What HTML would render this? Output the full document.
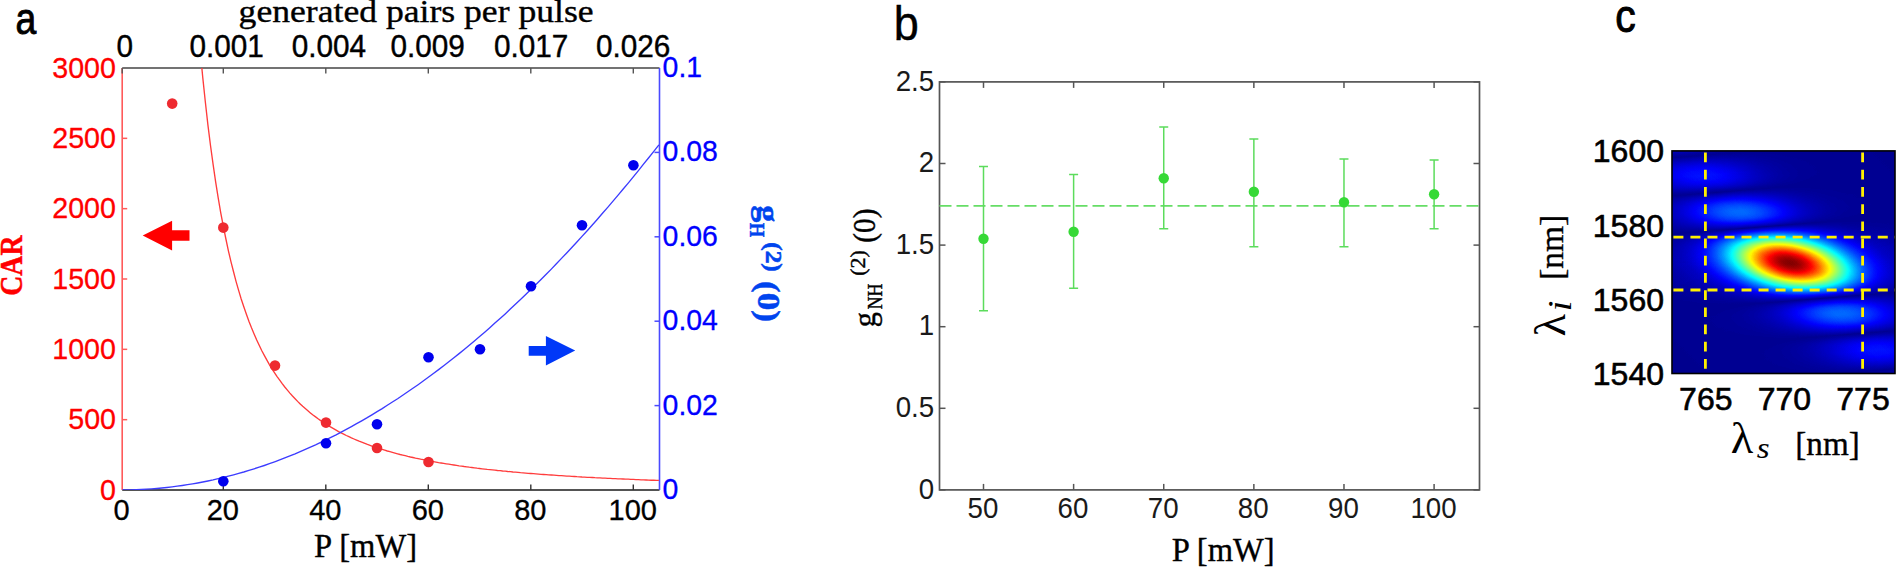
<!DOCTYPE html>
<html><head><meta charset="utf-8"><title>figure</title>
<style>html,body{margin:0;padding:0;background:#fff;overflow:hidden}svg{display:block}.sa{font-family:"Liberation Sans",sans-serif}.se{font-family:"Liberation Serif",serif}</style></head>
<body><svg width="1899" height="568" viewBox="0 0 1899 568">
<rect width="1899" height="568" fill="#fff"/>
<clipPath id="ca"><rect x="122.2" y="68.0" width="537.3" height="422.0"/></clipPath>
<line x1="122.2" y1="68.0" x2="659.5" y2="68.0" stroke="#444" stroke-width="1.5"/>
<line x1="122.2" y1="490.0" x2="659.5" y2="490.0" stroke="#1a1a1a" stroke-width="1.7"/>
<line x1="122.2" y1="68.0" x2="122.2" y2="490.0" stroke="#ff5a5a" stroke-width="1.6"/>
<line x1="659.5" y1="68.0" x2="659.5" y2="490.0" stroke="#4a4aff" stroke-width="1.6"/>
<line x1="122.2" y1="68.0" x2="122.2" y2="73.5" stroke="#555" stroke-width="1.4"/>
<text transform="translate(121.6,520.3) scale(0.985,1)" font-size="29.5" class="sa" text-anchor="middle" fill="#000" stroke="#000" stroke-width="0.3">0</text>
<line x1="223.3" y1="490.0" x2="223.3" y2="484.5" stroke="#333" stroke-width="1.4"/>
<line x1="223.3" y1="68.0" x2="223.3" y2="73.5" stroke="#555" stroke-width="1.4"/>
<text transform="translate(222.8,520.3) scale(0.985,1)" font-size="29.5" class="sa" text-anchor="middle" fill="#000" stroke="#000" stroke-width="0.3">20</text>
<line x1="325.8" y1="490.0" x2="325.8" y2="484.5" stroke="#333" stroke-width="1.4"/>
<line x1="325.8" y1="68.0" x2="325.8" y2="73.5" stroke="#555" stroke-width="1.4"/>
<text transform="translate(325.3,520.3) scale(0.985,1)" font-size="29.5" class="sa" text-anchor="middle" fill="#000" stroke="#000" stroke-width="0.3">40</text>
<line x1="428.3" y1="490.0" x2="428.3" y2="484.5" stroke="#333" stroke-width="1.4"/>
<line x1="428.3" y1="68.0" x2="428.3" y2="73.5" stroke="#555" stroke-width="1.4"/>
<text transform="translate(427.8,520.3) scale(0.985,1)" font-size="29.5" class="sa" text-anchor="middle" fill="#000" stroke="#000" stroke-width="0.3">60</text>
<line x1="530.8" y1="490.0" x2="530.8" y2="484.5" stroke="#333" stroke-width="1.4"/>
<line x1="530.8" y1="68.0" x2="530.8" y2="73.5" stroke="#555" stroke-width="1.4"/>
<text transform="translate(530.3,520.3) scale(0.985,1)" font-size="29.5" class="sa" text-anchor="middle" fill="#000" stroke="#000" stroke-width="0.3">80</text>
<line x1="633.3" y1="490.0" x2="633.3" y2="484.5" stroke="#333" stroke-width="1.4"/>
<line x1="633.3" y1="68.0" x2="633.3" y2="73.5" stroke="#555" stroke-width="1.4"/>
<text transform="translate(632.8,520.3) scale(0.985,1)" font-size="29.5" class="sa" text-anchor="middle" fill="#000" stroke="#000" stroke-width="0.3">100</text>
<text transform="translate(116,499.7) scale(0.975,1)" font-size="29.4" class="sa" text-anchor="end" fill="#ff0000" stroke="#ff0000" stroke-width="0.3">0</text>
<line x1="122.2" y1="419.6666666666667" x2="127.2" y2="419.6666666666667" stroke="#ff5a5a" stroke-width="1.5"/>
<text transform="translate(116,429.3666666666667) scale(0.975,1)" font-size="29.4" class="sa" text-anchor="end" fill="#ff0000" stroke="#ff0000" stroke-width="0.3">500</text>
<line x1="122.2" y1="349.33333333333337" x2="127.2" y2="349.33333333333337" stroke="#ff5a5a" stroke-width="1.5"/>
<text transform="translate(116,359.03333333333336) scale(0.975,1)" font-size="29.4" class="sa" text-anchor="end" fill="#ff0000" stroke="#ff0000" stroke-width="0.3">1000</text>
<line x1="122.2" y1="279.0" x2="127.2" y2="279.0" stroke="#ff5a5a" stroke-width="1.5"/>
<text transform="translate(116,288.7) scale(0.975,1)" font-size="29.4" class="sa" text-anchor="end" fill="#ff0000" stroke="#ff0000" stroke-width="0.3">1500</text>
<line x1="122.2" y1="208.66666666666669" x2="127.2" y2="208.66666666666669" stroke="#ff5a5a" stroke-width="1.5"/>
<text transform="translate(116,218.36666666666667) scale(0.975,1)" font-size="29.4" class="sa" text-anchor="end" fill="#ff0000" stroke="#ff0000" stroke-width="0.3">2000</text>
<line x1="122.2" y1="138.33333333333331" x2="127.2" y2="138.33333333333331" stroke="#ff5a5a" stroke-width="1.5"/>
<text transform="translate(116,148.0333333333333) scale(0.975,1)" font-size="29.4" class="sa" text-anchor="end" fill="#ff0000" stroke="#ff0000" stroke-width="0.3">2500</text>
<text transform="translate(116,77.7) scale(0.975,1)" font-size="29.4" class="sa" text-anchor="end" fill="#ff0000" stroke="#ff0000" stroke-width="0.3">3000</text>
<text transform="translate(662.6,498.9) scale(0.98,1)" font-size="29" class="sa" text-anchor="start" fill="#0000ff" stroke="#0000ff" stroke-width="0.3">0</text>
<line x1="659.5" y1="405.6" x2="654.5" y2="405.6" stroke="#4a4aff" stroke-width="1.5"/>
<text transform="translate(662.6,414.5) scale(0.98,1)" font-size="29" class="sa" text-anchor="start" fill="#0000ff" stroke="#0000ff" stroke-width="0.3">0.02</text>
<line x1="659.5" y1="321.20000000000005" x2="654.5" y2="321.20000000000005" stroke="#4a4aff" stroke-width="1.5"/>
<text transform="translate(662.6,330.1) scale(0.98,1)" font-size="29" class="sa" text-anchor="start" fill="#0000ff" stroke="#0000ff" stroke-width="0.3">0.04</text>
<line x1="659.5" y1="236.8" x2="654.5" y2="236.8" stroke="#4a4aff" stroke-width="1.5"/>
<text transform="translate(662.6,245.70000000000002) scale(0.98,1)" font-size="29" class="sa" text-anchor="start" fill="#0000ff" stroke="#0000ff" stroke-width="0.3">0.06</text>
<line x1="659.5" y1="152.40000000000003" x2="654.5" y2="152.40000000000003" stroke="#4a4aff" stroke-width="1.5"/>
<text transform="translate(662.6,161.30000000000004) scale(0.98,1)" font-size="29" class="sa" text-anchor="start" fill="#0000ff" stroke="#0000ff" stroke-width="0.3">0.08</text>
<text transform="translate(662.6,76.9) scale(0.98,1)" font-size="29" class="sa" text-anchor="start" fill="#0000ff" stroke="#0000ff" stroke-width="0.3">0.1</text>
<text transform="translate(124.7,56.9) scale(0.975,1)" font-size="30.5" class="sa" text-anchor="middle" fill="#000" stroke="#000" stroke-width="0.4">0</text>
<text transform="translate(226.7,56.9) scale(0.975,1)" font-size="30.5" class="sa" text-anchor="middle" fill="#000" stroke="#000" stroke-width="0.4">0.001</text>
<text transform="translate(328.9,56.9) scale(0.975,1)" font-size="30.5" class="sa" text-anchor="middle" fill="#000" stroke="#000" stroke-width="0.4">0.004</text>
<text transform="translate(427.7,56.9) scale(0.975,1)" font-size="30.5" class="sa" text-anchor="middle" fill="#000" stroke="#000" stroke-width="0.4">0.009</text>
<text transform="translate(531.2,56.9) scale(0.975,1)" font-size="30.5" class="sa" text-anchor="middle" fill="#000" stroke="#000" stroke-width="0.4">0.017</text>
<text transform="translate(633.2,56.9) scale(0.975,1)" font-size="30.5" class="sa" text-anchor="middle" fill="#000" stroke="#000" stroke-width="0.4">0.026</text>
<polyline clip-path="url(#ca)" fill="none" stroke="#ff3c3c" stroke-width="1.35" points="192.6,-48.3 195.1,-11.8 197.7,21.1 200.2,50.9 202.8,77.9 205.4,102.5 207.9,124.9 210.5,145.5 213.1,164.4 215.6,181.7 218.2,197.8 220.7,212.6 223.3,226.2 225.9,239.0 228.4,250.8 231.0,261.8 233.6,272.0 236.1,281.6 238.7,290.6 241.2,299.0 243.8,306.8 246.4,314.2 248.9,321.2 251.5,327.8 254.1,333.9 256.6,339.8 259.2,345.3 261.7,350.5 264.3,355.4 266.9,360.1 269.4,364.6 272.0,368.8 274.6,372.8 277.1,376.6 279.7,380.2 282.2,383.7 284.8,387.0 287.4,390.1 289.9,393.1 292.5,396.0 295.1,398.7 297.6,401.4 300.2,403.9 302.7,406.3 305.3,408.6 307.9,410.8 310.4,412.9 313.0,415.0 315.6,416.9 318.1,418.8 320.7,420.6 323.2,422.4 325.8,424.1 328.4,425.7 330.9,427.2 333.5,428.7 336.1,430.2 338.6,431.6 341.2,432.9 343.7,434.2 346.3,435.5 348.9,436.7 351.4,437.9 354.0,439.0 356.6,440.1 359.1,441.2 361.7,442.2 364.2,443.2 366.8,444.2 369.4,445.1 371.9,446.1 374.5,446.9 377.1,447.8 379.6,448.6 382.2,449.4 384.7,450.2 387.3,451.0 389.9,451.7 392.4,452.4 395.0,453.1 397.6,453.8 400.1,454.5 402.7,455.1 405.2,455.7 407.8,456.4 410.4,457.0 412.9,457.5 415.5,458.1 418.1,458.6 420.6,459.2 423.2,459.7 425.7,460.2 428.3,460.7 430.9,461.2 433.4,461.6 436.0,462.1 438.6,462.6 441.1,463.0 443.7,463.4 446.2,463.8 448.8,464.2 451.4,464.6 453.9,465.0 456.5,465.4 459.1,465.8 461.6,466.1 464.2,466.5 466.7,466.8 469.3,467.2 471.9,467.5 474.4,467.8 477.0,468.2 479.6,468.5 482.1,468.8 484.7,469.1 487.2,469.4 489.8,469.6 492.4,469.9 494.9,470.2 497.5,470.5 500.1,470.7 502.6,471.0 505.2,471.2 507.7,471.5 510.3,471.7 512.9,472.0 515.4,472.2 518.0,472.4 520.5,472.7 523.1,472.9 525.7,473.1 528.2,473.3 530.8,473.5 533.4,473.7 535.9,473.9 538.5,474.1 541.0,474.3 543.6,474.5 546.2,474.7 548.7,474.9 551.3,475.0 553.9,475.2 556.4,475.4 559.0,475.6 561.5,475.7 564.1,475.9 566.7,476.1 569.2,476.2 571.8,476.4 574.4,476.5 576.9,476.7 579.5,476.8 582.0,477.0 584.6,477.1 587.2,477.3 589.7,477.4 592.3,477.5 594.9,477.7 597.4,477.8 600.0,477.9 602.5,478.1 605.1,478.2 607.7,478.3 610.2,478.4 612.8,478.6 615.4,478.7 617.9,478.8 620.5,478.9 623.0,479.0 625.6,479.1 628.2,479.2 630.7,479.3 633.3,479.4 635.9,479.6 638.4,479.7 641.0,479.8 643.5,479.9 646.1,480.0 648.7,480.1 651.2,480.2 653.8,480.2 656.4,480.3 658.9,480.4"/>
<polyline clip-path="url(#ca)" fill="none" stroke="#3c3cff" stroke-width="1.35" points="120.8,490.0 125.9,490.0 131.1,489.9 136.2,489.7 141.3,489.5 146.4,489.2 151.6,488.9 156.7,488.5 161.8,488.0 166.9,487.5 172.1,486.9 177.2,486.2 182.3,485.5 187.4,484.7 192.6,483.9 197.7,483.0 202.8,482.0 207.9,481.0 213.1,479.9 218.2,478.7 223.3,477.5 228.4,476.2 233.6,474.8 238.7,473.4 243.8,472.0 248.9,470.4 254.1,468.8 259.2,467.2 264.3,465.5 269.4,463.7 274.6,461.8 279.7,459.9 284.8,457.9 289.9,455.9 295.1,453.8 300.2,451.6 305.3,449.4 310.4,447.1 315.6,444.8 320.7,442.4 325.8,439.9 330.9,437.4 336.1,434.8 341.2,432.1 346.3,429.4 351.4,426.6 356.6,423.7 361.7,420.8 366.8,417.9 371.9,414.8 377.1,411.7 382.2,408.6 387.3,405.3 392.4,402.0 397.6,398.7 402.7,395.3 407.8,391.8 412.9,388.3 418.1,384.7 423.2,381.0 428.3,377.3 433.4,373.5 438.6,369.6 443.7,365.7 448.8,361.7 453.9,357.7 459.1,353.6 464.2,349.4 469.3,345.2 474.4,340.9 479.6,336.6 484.7,332.2 489.8,327.7 494.9,323.1 500.1,318.5 505.2,313.9 510.3,309.1 515.4,304.3 520.5,299.5 525.7,294.6 530.8,289.6 535.9,284.6 541.0,279.5 546.2,274.3 551.3,269.1 556.4,263.8 561.5,258.4 566.7,253.0 571.8,247.5 576.9,242.0 582.0,236.4 587.2,230.7 592.3,225.0 597.4,219.2 602.5,213.3 607.7,207.4 612.8,201.4 617.9,195.4 623.0,189.3 628.2,183.1 633.3,176.9 638.4,170.6 643.5,164.2 648.7,157.8 653.8,151.3 658.9,144.8"/>
<circle cx="172.2" cy="103.6" r="5.3" fill="#ee2a30"/>
<circle cx="223.3" cy="227.6" r="5.3" fill="#ee2a30"/>
<circle cx="275" cy="365.6" r="5.3" fill="#ee2a30"/>
<circle cx="326" cy="422.6" r="5.3" fill="#ee2a30"/>
<circle cx="377" cy="448" r="5.3" fill="#ee2a30"/>
<circle cx="428.5" cy="462" r="5.3" fill="#ee2a30"/>
<circle cx="223.3" cy="481.3" r="5.3" fill="#0000ee"/>
<circle cx="326" cy="443.3" r="5.3" fill="#0000ee"/>
<circle cx="377" cy="424.3" r="5.3" fill="#0000ee"/>
<circle cx="428.5" cy="357.3" r="5.3" fill="#0000ee"/>
<circle cx="480" cy="349.3" r="5.3" fill="#0000ee"/>
<circle cx="531" cy="286.3" r="5.3" fill="#0000ee"/>
<circle cx="582" cy="225.3" r="5.3" fill="#0000ee"/>
<circle cx="633.4" cy="165.3" r="5.3" fill="#0000ee"/>
<polygon fill="#ff0000" points="142.7,235.6 172.1,220.8 172.1,230.3 189.5,230.3 189.5,240.7 172.1,240.7 172.1,250.4"/>
<polygon fill="#0038f8" points="575.2,350.6 545.9,336 545.9,345.9 528.7,345.9 528.7,355.7 545.9,355.7 545.9,365.4"/>
<text transform="translate(15.5,34) scale(0.83,1)" font-size="45" class="sa" text-anchor="start" fill="#000" stroke="#000" stroke-width="0.9">a</text>
<text class="se" font-weight="normal" font-style="normal" fill="#000" stroke="#000" stroke-width="0.35"><tspan x="238.6" y="22.1" font-size="30.5" textLength="355" lengthAdjust="spacingAndGlyphs">generated pairs per pulse</tspan></text>
<text class="se" font-weight="normal" font-style="normal" fill="#000" stroke="#000" stroke-width="0.35"><tspan x="314.1" y="556.8" font-size="33.8" textLength="103" lengthAdjust="spacingAndGlyphs">P [mW]</tspan></text>
<text transform="translate(22.4,295.7) rotate(-90)" class="se" font-weight="bold" font-style="normal" fill="#ff0000" stroke="#ff0000" stroke-width="0.5"><tspan x="0" y="0" font-size="32.5" textLength="60.2" lengthAdjust="spacingAndGlyphs">CAR</tspan></text>
<text transform="translate(757.5,0) rotate(90)" class="se" font-weight="bold" font-style="normal" fill="#0044ee" stroke="#0044ee" stroke-width="0.5"><tspan x="205.3" y="0" font-size="32" textLength="17" lengthAdjust="spacingAndGlyphs">g</tspan><tspan x="223" y="8" font-size="21" textLength="14" lengthAdjust="spacingAndGlyphs">H</tspan><tspan x="242.2" y="-8.8" font-size="23" textLength="29.6" lengthAdjust="spacingAndGlyphs">(2)</tspan><tspan x="281" y="0" font-size="31.5" textLength="41" lengthAdjust="spacingAndGlyphs">(0)</tspan></text>
<rect x="939.5" y="81.9" width="540.0" height="408.0" fill="none" stroke="#555" stroke-width="1.7"/>
<line x1="983.5" y1="489.9" x2="983.5" y2="483.9" stroke="#555" stroke-width="1.5"/>
<line x1="983.5" y1="81.9" x2="983.5" y2="87.9" stroke="#555" stroke-width="1.5"/>
<text transform="translate(982.9,517.7) scale(0.955,1)" font-size="29" class="sa" text-anchor="middle" fill="#1a1a1a" stroke="#1a1a1a" stroke-width="0">50</text>
<line x1="1073.62" y1="489.9" x2="1073.62" y2="483.9" stroke="#555" stroke-width="1.5"/>
<line x1="1073.62" y1="81.9" x2="1073.62" y2="87.9" stroke="#555" stroke-width="1.5"/>
<text transform="translate(1073.02,517.7) scale(0.955,1)" font-size="29" class="sa" text-anchor="middle" fill="#1a1a1a" stroke="#1a1a1a" stroke-width="0">60</text>
<line x1="1163.74" y1="489.9" x2="1163.74" y2="483.9" stroke="#555" stroke-width="1.5"/>
<line x1="1163.74" y1="81.9" x2="1163.74" y2="87.9" stroke="#555" stroke-width="1.5"/>
<text transform="translate(1163.14,517.7) scale(0.955,1)" font-size="29" class="sa" text-anchor="middle" fill="#1a1a1a" stroke="#1a1a1a" stroke-width="0">70</text>
<line x1="1253.8600000000001" y1="489.9" x2="1253.8600000000001" y2="483.9" stroke="#555" stroke-width="1.5"/>
<line x1="1253.8600000000001" y1="81.9" x2="1253.8600000000001" y2="87.9" stroke="#555" stroke-width="1.5"/>
<text transform="translate(1253.2600000000002,517.7) scale(0.955,1)" font-size="29" class="sa" text-anchor="middle" fill="#1a1a1a" stroke="#1a1a1a" stroke-width="0">80</text>
<line x1="1343.98" y1="489.9" x2="1343.98" y2="483.9" stroke="#555" stroke-width="1.5"/>
<line x1="1343.98" y1="81.9" x2="1343.98" y2="87.9" stroke="#555" stroke-width="1.5"/>
<text transform="translate(1343.38,517.7) scale(0.955,1)" font-size="29" class="sa" text-anchor="middle" fill="#1a1a1a" stroke="#1a1a1a" stroke-width="0">90</text>
<line x1="1434.1" y1="489.9" x2="1434.1" y2="483.9" stroke="#555" stroke-width="1.5"/>
<line x1="1434.1" y1="81.9" x2="1434.1" y2="87.9" stroke="#555" stroke-width="1.5"/>
<text transform="translate(1433.5,517.7) scale(0.955,1)" font-size="29" class="sa" text-anchor="middle" fill="#1a1a1a" stroke="#1a1a1a" stroke-width="0">100</text>
<line x1="939.5" y1="489.9" x2="945.5" y2="489.9" stroke="#555" stroke-width="1.5"/>
<line x1="1479.5" y1="489.9" x2="1473.5" y2="489.9" stroke="#555" stroke-width="1.5"/>
<text transform="translate(934.2,498.5) scale(0.955,1)" font-size="29" class="sa" text-anchor="end" fill="#1a1a1a" stroke="#1a1a1a" stroke-width="0">0</text>
<line x1="939.5" y1="408.29999999999995" x2="945.5" y2="408.29999999999995" stroke="#555" stroke-width="1.5"/>
<line x1="1479.5" y1="408.29999999999995" x2="1473.5" y2="408.29999999999995" stroke="#555" stroke-width="1.5"/>
<text transform="translate(934.2,416.9) scale(0.955,1)" font-size="29" class="sa" text-anchor="end" fill="#1a1a1a" stroke="#1a1a1a" stroke-width="0">0.5</text>
<line x1="939.5" y1="326.7" x2="945.5" y2="326.7" stroke="#555" stroke-width="1.5"/>
<line x1="1479.5" y1="326.7" x2="1473.5" y2="326.7" stroke="#555" stroke-width="1.5"/>
<text transform="translate(934.2,335.3) scale(0.955,1)" font-size="29" class="sa" text-anchor="end" fill="#1a1a1a" stroke="#1a1a1a" stroke-width="0">1</text>
<line x1="939.5" y1="245.09999999999997" x2="945.5" y2="245.09999999999997" stroke="#555" stroke-width="1.5"/>
<line x1="1479.5" y1="245.09999999999997" x2="1473.5" y2="245.09999999999997" stroke="#555" stroke-width="1.5"/>
<text transform="translate(934.2,253.69999999999996) scale(0.955,1)" font-size="29" class="sa" text-anchor="end" fill="#1a1a1a" stroke="#1a1a1a" stroke-width="0">1.5</text>
<line x1="939.5" y1="163.5" x2="945.5" y2="163.5" stroke="#555" stroke-width="1.5"/>
<line x1="1479.5" y1="163.5" x2="1473.5" y2="163.5" stroke="#555" stroke-width="1.5"/>
<text transform="translate(934.2,172.1) scale(0.955,1)" font-size="29" class="sa" text-anchor="end" fill="#1a1a1a" stroke="#1a1a1a" stroke-width="0">2</text>
<line x1="939.5" y1="81.89999999999998" x2="945.5" y2="81.89999999999998" stroke="#555" stroke-width="1.5"/>
<line x1="1479.5" y1="81.89999999999998" x2="1473.5" y2="81.89999999999998" stroke="#555" stroke-width="1.5"/>
<text transform="translate(934.2,90.49999999999997) scale(0.955,1)" font-size="29" class="sa" text-anchor="end" fill="#1a1a1a" stroke="#1a1a1a" stroke-width="0">2.5</text>
<line x1="939.5" y1="205.9" x2="1479.5" y2="205.9" stroke="#66dd66" stroke-width="1.6" stroke-dasharray="12,5"/>
<path d="M983.5 166.5V310.7M979.0 166.5h9M979.0 310.7h9" stroke="#5cdc5c" stroke-width="1.5" fill="none"/>
<circle cx="983.5" cy="238.8" r="5.2" fill="#36d936"/>
<path d="M1073.62 174.5V288.2M1069.12 174.5h9M1069.12 288.2h9" stroke="#5cdc5c" stroke-width="1.5" fill="none"/>
<circle cx="1073.62" cy="231.8" r="5.2" fill="#36d936"/>
<path d="M1163.74 127.0V228.7M1159.24 127.0h9M1159.24 228.7h9" stroke="#5cdc5c" stroke-width="1.5" fill="none"/>
<circle cx="1163.74" cy="178.3" r="5.2" fill="#36d936"/>
<path d="M1253.8600000000001 139.0V246.7M1249.3600000000001 139.0h9M1249.3600000000001 246.7h9" stroke="#5cdc5c" stroke-width="1.5" fill="none"/>
<circle cx="1253.8600000000001" cy="191.8" r="5.2" fill="#36d936"/>
<path d="M1343.98 159.0V246.7M1339.48 159.0h9M1339.48 246.7h9" stroke="#5cdc5c" stroke-width="1.5" fill="none"/>
<circle cx="1343.98" cy="202.3" r="5.2" fill="#36d936"/>
<path d="M1434.1 160.0V228.7M1429.6 160.0h9M1429.6 228.7h9" stroke="#5cdc5c" stroke-width="1.5" fill="none"/>
<circle cx="1434.1" cy="194.3" r="5.2" fill="#36d936"/>
<text transform="translate(893.8,40.0) scale(0.92,1)" font-size="49" class="sa" text-anchor="start" fill="#000" stroke="#000" stroke-width="0.4">b</text>
<text class="se" font-weight="normal" font-style="normal" fill="#000" stroke="#000" stroke-width="0.35"><tspan x="1171.7" y="561.2" font-size="33.8" textLength="103" lengthAdjust="spacingAndGlyphs">P [mW]</tspan></text>
<text transform="translate(875,327.2) rotate(-90)" class="se" font-weight="normal" font-style="normal" fill="#000" stroke="#000" stroke-width="0.4"><tspan x="0" y="0" font-size="32" textLength="15.2" lengthAdjust="spacingAndGlyphs">g</tspan><tspan x="17.9" y="7.2" font-size="20.7" textLength="25.6" lengthAdjust="spacingAndGlyphs">NH</tspan><tspan x="51.4" y="-10" font-size="22" textLength="25.6" lengthAdjust="spacingAndGlyphs">(2)</tspan><tspan x="84.4" y="0.3" font-size="31.5" textLength="34.3" lengthAdjust="spacingAndGlyphs">(0)</tspan></text>
<linearGradient id="gG" gradientUnits="userSpaceOnUse" x1="1606.15" y1="446.65" x2="1973.85" y2="78.95"><stop offset="0.0000" stop-color="#000000"/><stop offset="0.0083" stop-color="#000000"/><stop offset="0.0167" stop-color="#000000"/><stop offset="0.0250" stop-color="#000000"/><stop offset="0.0333" stop-color="#000000"/><stop offset="0.0417" stop-color="#000000"/><stop offset="0.0500" stop-color="#000000"/><stop offset="0.0583" stop-color="#000000"/><stop offset="0.0667" stop-color="#000000"/><stop offset="0.0750" stop-color="#000000"/><stop offset="0.0833" stop-color="#000000"/><stop offset="0.0917" stop-color="#000000"/><stop offset="0.1000" stop-color="#000000"/><stop offset="0.1083" stop-color="#000000"/><stop offset="0.1167" stop-color="#000000"/><stop offset="0.1250" stop-color="#000000"/><stop offset="0.1333" stop-color="#000000"/><stop offset="0.1417" stop-color="#000000"/><stop offset="0.1500" stop-color="#000000"/><stop offset="0.1583" stop-color="#000000"/><stop offset="0.1667" stop-color="#000000"/><stop offset="0.1750" stop-color="#000000"/><stop offset="0.1833" stop-color="#000000"/><stop offset="0.1917" stop-color="#000000"/><stop offset="0.2000" stop-color="#000000"/><stop offset="0.2083" stop-color="#000000"/><stop offset="0.2167" stop-color="#000000"/><stop offset="0.2250" stop-color="#000000"/><stop offset="0.2333" stop-color="#000000"/><stop offset="0.2417" stop-color="#010101"/><stop offset="0.2500" stop-color="#010101"/><stop offset="0.2583" stop-color="#010101"/><stop offset="0.2667" stop-color="#010101"/><stop offset="0.2750" stop-color="#020202"/><stop offset="0.2833" stop-color="#020202"/><stop offset="0.2917" stop-color="#020202"/><stop offset="0.3000" stop-color="#030303"/><stop offset="0.3083" stop-color="#040404"/><stop offset="0.3167" stop-color="#050505"/><stop offset="0.3250" stop-color="#060606"/><stop offset="0.3333" stop-color="#070707"/><stop offset="0.3417" stop-color="#090909"/><stop offset="0.3500" stop-color="#0b0b0b"/><stop offset="0.3583" stop-color="#0d0d0d"/><stop offset="0.3667" stop-color="#111111"/><stop offset="0.3750" stop-color="#161616"/><stop offset="0.3833" stop-color="#1d1d1d"/><stop offset="0.3917" stop-color="#252525"/><stop offset="0.4000" stop-color="#2f2f2f"/><stop offset="0.4083" stop-color="#3c3c3c"/><stop offset="0.4167" stop-color="#4c4c4c"/><stop offset="0.4250" stop-color="#5f5f5f"/><stop offset="0.4333" stop-color="#747474"/><stop offset="0.4417" stop-color="#8b8b8b"/><stop offset="0.4500" stop-color="#a3a3a3"/><stop offset="0.4583" stop-color="#bababa"/><stop offset="0.4667" stop-color="#d0d0d0"/><stop offset="0.4750" stop-color="#e4e4e4"/><stop offset="0.4833" stop-color="#f2f2f2"/><stop offset="0.4917" stop-color="#fcfcfc"/><stop offset="0.5000" stop-color="#ffffff"/><stop offset="0.5083" stop-color="#fcfcfc"/><stop offset="0.5167" stop-color="#f2f2f2"/><stop offset="0.5250" stop-color="#e4e4e4"/><stop offset="0.5333" stop-color="#d0d0d0"/><stop offset="0.5417" stop-color="#bababa"/><stop offset="0.5500" stop-color="#a3a3a3"/><stop offset="0.5583" stop-color="#8b8b8b"/><stop offset="0.5667" stop-color="#747474"/><stop offset="0.5750" stop-color="#5f5f5f"/><stop offset="0.5833" stop-color="#4c4c4c"/><stop offset="0.5917" stop-color="#3c3c3c"/><stop offset="0.6000" stop-color="#2f2f2f"/><stop offset="0.6083" stop-color="#252525"/><stop offset="0.6167" stop-color="#1d1d1d"/><stop offset="0.6250" stop-color="#161616"/><stop offset="0.6333" stop-color="#111111"/><stop offset="0.6417" stop-color="#0d0d0d"/><stop offset="0.6500" stop-color="#0b0b0b"/><stop offset="0.6583" stop-color="#090909"/><stop offset="0.6667" stop-color="#070707"/><stop offset="0.6750" stop-color="#060606"/><stop offset="0.6833" stop-color="#050505"/><stop offset="0.6917" stop-color="#040404"/><stop offset="0.7000" stop-color="#030303"/><stop offset="0.7083" stop-color="#020202"/><stop offset="0.7167" stop-color="#020202"/><stop offset="0.7250" stop-color="#020202"/><stop offset="0.7333" stop-color="#010101"/><stop offset="0.7417" stop-color="#010101"/><stop offset="0.7500" stop-color="#010101"/><stop offset="0.7583" stop-color="#010101"/><stop offset="0.7667" stop-color="#000000"/><stop offset="0.7750" stop-color="#000000"/><stop offset="0.7833" stop-color="#000000"/><stop offset="0.7917" stop-color="#000000"/><stop offset="0.8000" stop-color="#000000"/><stop offset="0.8083" stop-color="#000000"/><stop offset="0.8167" stop-color="#000000"/><stop offset="0.8250" stop-color="#000000"/><stop offset="0.8333" stop-color="#000000"/><stop offset="0.8417" stop-color="#000000"/><stop offset="0.8500" stop-color="#000000"/><stop offset="0.8583" stop-color="#000000"/><stop offset="0.8667" stop-color="#000000"/><stop offset="0.8750" stop-color="#000000"/><stop offset="0.8833" stop-color="#000000"/><stop offset="0.8917" stop-color="#000000"/><stop offset="0.9000" stop-color="#000000"/><stop offset="0.9083" stop-color="#000000"/><stop offset="0.9167" stop-color="#000000"/><stop offset="0.9250" stop-color="#000000"/><stop offset="0.9333" stop-color="#000000"/><stop offset="0.9417" stop-color="#000000"/><stop offset="0.9500" stop-color="#000000"/><stop offset="0.9583" stop-color="#000000"/><stop offset="0.9667" stop-color="#000000"/><stop offset="0.9750" stop-color="#000000"/><stop offset="0.9833" stop-color="#000000"/><stop offset="0.9917" stop-color="#000000"/><stop offset="1.0000" stop-color="#000000"/></linearGradient>
<linearGradient id="gS" gradientUnits="userSpaceOnUse" x1="1774.05" y1="63.44" x2="1805.95" y2="462.16"><stop offset="0.0000" stop-color="#0b0b0b"/><stop offset="0.0050" stop-color="#090909"/><stop offset="0.0100" stop-color="#060606"/><stop offset="0.0150" stop-color="#040404"/><stop offset="0.0200" stop-color="#010101"/><stop offset="0.0250" stop-color="#010101"/><stop offset="0.0300" stop-color="#040404"/><stop offset="0.0350" stop-color="#070707"/><stop offset="0.0400" stop-color="#090909"/><stop offset="0.0450" stop-color="#0b0b0b"/><stop offset="0.0500" stop-color="#0d0d0d"/><stop offset="0.0550" stop-color="#0f0f0f"/><stop offset="0.0600" stop-color="#111111"/><stop offset="0.0650" stop-color="#121212"/><stop offset="0.0700" stop-color="#121212"/><stop offset="0.0750" stop-color="#121212"/><stop offset="0.0800" stop-color="#121212"/><stop offset="0.0850" stop-color="#111111"/><stop offset="0.0900" stop-color="#0f0f0f"/><stop offset="0.0950" stop-color="#0d0d0d"/><stop offset="0.1000" stop-color="#0b0b0b"/><stop offset="0.1050" stop-color="#080808"/><stop offset="0.1100" stop-color="#050505"/><stop offset="0.1150" stop-color="#020202"/><stop offset="0.1200" stop-color="#010101"/><stop offset="0.1250" stop-color="#050505"/><stop offset="0.1300" stop-color="#080808"/><stop offset="0.1350" stop-color="#0b0b0b"/><stop offset="0.1400" stop-color="#0e0e0e"/><stop offset="0.1450" stop-color="#111111"/><stop offset="0.1500" stop-color="#131313"/><stop offset="0.1550" stop-color="#151515"/><stop offset="0.1600" stop-color="#161616"/><stop offset="0.1650" stop-color="#171717"/><stop offset="0.1700" stop-color="#171717"/><stop offset="0.1750" stop-color="#171717"/><stop offset="0.1800" stop-color="#161616"/><stop offset="0.1850" stop-color="#141414"/><stop offset="0.1900" stop-color="#121212"/><stop offset="0.1950" stop-color="#0f0f0f"/><stop offset="0.2000" stop-color="#0b0b0b"/><stop offset="0.2050" stop-color="#070707"/><stop offset="0.2100" stop-color="#030303"/><stop offset="0.2150" stop-color="#010101"/><stop offset="0.2200" stop-color="#060606"/><stop offset="0.2250" stop-color="#0a0a0a"/><stop offset="0.2300" stop-color="#0f0f0f"/><stop offset="0.2350" stop-color="#131313"/><stop offset="0.2400" stop-color="#171717"/><stop offset="0.2450" stop-color="#1a1a1a"/><stop offset="0.2500" stop-color="#1d1d1d"/><stop offset="0.2550" stop-color="#1f1f1f"/><stop offset="0.2600" stop-color="#202020"/><stop offset="0.2650" stop-color="#212121"/><stop offset="0.2700" stop-color="#202020"/><stop offset="0.2750" stop-color="#1f1f1f"/><stop offset="0.2800" stop-color="#1d1d1d"/><stop offset="0.2850" stop-color="#1a1a1a"/><stop offset="0.2900" stop-color="#161616"/><stop offset="0.2950" stop-color="#111111"/><stop offset="0.3000" stop-color="#0b0b0b"/><stop offset="0.3050" stop-color="#050505"/><stop offset="0.3100" stop-color="#010101"/><stop offset="0.3150" stop-color="#080808"/><stop offset="0.3200" stop-color="#0f0f0f"/><stop offset="0.3250" stop-color="#161616"/><stop offset="0.3300" stop-color="#1d1d1d"/><stop offset="0.3350" stop-color="#232323"/><stop offset="0.3400" stop-color="#292929"/><stop offset="0.3450" stop-color="#2e2e2e"/><stop offset="0.3500" stop-color="#323232"/><stop offset="0.3550" stop-color="#353535"/><stop offset="0.3600" stop-color="#373737"/><stop offset="0.3650" stop-color="#373737"/><stop offset="0.3700" stop-color="#363636"/><stop offset="0.3750" stop-color="#333333"/><stop offset="0.3800" stop-color="#2f2f2f"/><stop offset="0.3850" stop-color="#282828"/><stop offset="0.3900" stop-color="#202020"/><stop offset="0.3950" stop-color="#171717"/><stop offset="0.4000" stop-color="#0c0c0c"/><stop offset="0.4050" stop-color="#010101"/><stop offset="0.4100" stop-color="#0f0f0f"/><stop offset="0.4150" stop-color="#1f1f1f"/><stop offset="0.4200" stop-color="#2f2f2f"/><stop offset="0.4250" stop-color="#404040"/><stop offset="0.4300" stop-color="#525252"/><stop offset="0.4350" stop-color="#646464"/><stop offset="0.4400" stop-color="#777777"/><stop offset="0.4450" stop-color="#898989"/><stop offset="0.4500" stop-color="#9b9b9b"/><stop offset="0.4550" stop-color="#ababab"/><stop offset="0.4600" stop-color="#bbbbbb"/><stop offset="0.4650" stop-color="#cacaca"/><stop offset="0.4700" stop-color="#d8d8d8"/><stop offset="0.4750" stop-color="#e3e3e3"/><stop offset="0.4800" stop-color="#ededed"/><stop offset="0.4850" stop-color="#f5f5f5"/><stop offset="0.4900" stop-color="#fafafa"/><stop offset="0.4950" stop-color="#fefefe"/><stop offset="0.5000" stop-color="#ffffff"/><stop offset="0.5050" stop-color="#fefefe"/><stop offset="0.5100" stop-color="#fafafa"/><stop offset="0.5150" stop-color="#f5f5f5"/><stop offset="0.5200" stop-color="#ededed"/><stop offset="0.5250" stop-color="#e3e3e3"/><stop offset="0.5300" stop-color="#d8d8d8"/><stop offset="0.5350" stop-color="#cacaca"/><stop offset="0.5400" stop-color="#bbbbbb"/><stop offset="0.5450" stop-color="#ababab"/><stop offset="0.5500" stop-color="#9b9b9b"/><stop offset="0.5550" stop-color="#898989"/><stop offset="0.5600" stop-color="#777777"/><stop offset="0.5650" stop-color="#646464"/><stop offset="0.5700" stop-color="#525252"/><stop offset="0.5750" stop-color="#404040"/><stop offset="0.5800" stop-color="#2f2f2f"/><stop offset="0.5850" stop-color="#1f1f1f"/><stop offset="0.5900" stop-color="#0f0f0f"/><stop offset="0.5950" stop-color="#010101"/><stop offset="0.6000" stop-color="#0c0c0c"/><stop offset="0.6050" stop-color="#171717"/><stop offset="0.6100" stop-color="#202020"/><stop offset="0.6150" stop-color="#282828"/><stop offset="0.6200" stop-color="#2f2f2f"/><stop offset="0.6250" stop-color="#333333"/><stop offset="0.6300" stop-color="#363636"/><stop offset="0.6350" stop-color="#373737"/><stop offset="0.6400" stop-color="#373737"/><stop offset="0.6450" stop-color="#353535"/><stop offset="0.6500" stop-color="#323232"/><stop offset="0.6550" stop-color="#2e2e2e"/><stop offset="0.6600" stop-color="#292929"/><stop offset="0.6650" stop-color="#232323"/><stop offset="0.6700" stop-color="#1d1d1d"/><stop offset="0.6750" stop-color="#161616"/><stop offset="0.6800" stop-color="#0f0f0f"/><stop offset="0.6850" stop-color="#080808"/><stop offset="0.6900" stop-color="#010101"/><stop offset="0.6950" stop-color="#050505"/><stop offset="0.7000" stop-color="#0b0b0b"/><stop offset="0.7050" stop-color="#111111"/><stop offset="0.7100" stop-color="#161616"/><stop offset="0.7150" stop-color="#1a1a1a"/><stop offset="0.7200" stop-color="#1d1d1d"/><stop offset="0.7250" stop-color="#1f1f1f"/><stop offset="0.7300" stop-color="#202020"/><stop offset="0.7350" stop-color="#212121"/><stop offset="0.7400" stop-color="#202020"/><stop offset="0.7450" stop-color="#1f1f1f"/><stop offset="0.7500" stop-color="#1d1d1d"/><stop offset="0.7550" stop-color="#1a1a1a"/><stop offset="0.7600" stop-color="#171717"/><stop offset="0.7650" stop-color="#131313"/><stop offset="0.7700" stop-color="#0f0f0f"/><stop offset="0.7750" stop-color="#0a0a0a"/><stop offset="0.7800" stop-color="#060606"/><stop offset="0.7850" stop-color="#010101"/><stop offset="0.7900" stop-color="#030303"/><stop offset="0.7950" stop-color="#070707"/><stop offset="0.8000" stop-color="#0b0b0b"/><stop offset="0.8050" stop-color="#0f0f0f"/><stop offset="0.8100" stop-color="#121212"/><stop offset="0.8150" stop-color="#141414"/><stop offset="0.8200" stop-color="#161616"/><stop offset="0.8250" stop-color="#171717"/><stop offset="0.8300" stop-color="#171717"/><stop offset="0.8350" stop-color="#171717"/><stop offset="0.8400" stop-color="#161616"/><stop offset="0.8450" stop-color="#151515"/><stop offset="0.8500" stop-color="#131313"/><stop offset="0.8550" stop-color="#111111"/><stop offset="0.8600" stop-color="#0e0e0e"/><stop offset="0.8650" stop-color="#0b0b0b"/><stop offset="0.8700" stop-color="#080808"/><stop offset="0.8750" stop-color="#050505"/><stop offset="0.8800" stop-color="#010101"/><stop offset="0.8850" stop-color="#020202"/><stop offset="0.8900" stop-color="#050505"/><stop offset="0.8950" stop-color="#080808"/><stop offset="0.9000" stop-color="#0b0b0b"/><stop offset="0.9050" stop-color="#0d0d0d"/><stop offset="0.9100" stop-color="#0f0f0f"/><stop offset="0.9150" stop-color="#111111"/><stop offset="0.9200" stop-color="#121212"/><stop offset="0.9250" stop-color="#121212"/><stop offset="0.9300" stop-color="#121212"/><stop offset="0.9350" stop-color="#121212"/><stop offset="0.9400" stop-color="#111111"/><stop offset="0.9450" stop-color="#0f0f0f"/><stop offset="0.9500" stop-color="#0d0d0d"/><stop offset="0.9550" stop-color="#0b0b0b"/><stop offset="0.9600" stop-color="#090909"/><stop offset="0.9650" stop-color="#070707"/><stop offset="0.9700" stop-color="#040404"/><stop offset="0.9750" stop-color="#010101"/><stop offset="0.9800" stop-color="#010101"/><stop offset="0.9850" stop-color="#040404"/><stop offset="0.9900" stop-color="#060606"/><stop offset="0.9950" stop-color="#090909"/><stop offset="1.0000" stop-color="#0b0b0b"/></linearGradient>
<filter id="fj" x="0" y="0" width="100%" height="100%" color-interpolation-filters="sRGB"><feComponentTransfer><feFuncR type="table" tableValues="0.000 0.000 0.000 0.000 0.000 0.000 0.000 0.000 0.000 0.000 0.000 0.000 0.000 0.000 0.000 0.000 0.000 0.000 0.000 0.000 0.000 0.000 0.000 0.000 0.038 0.099 0.161 0.222 0.284 0.345 0.407 0.468 0.530 0.592 0.653 0.715 0.776 0.838 0.899 0.961 1.000 1.000 1.000 1.000 1.000 1.000 1.000 1.000 1.000 1.000 1.000 1.000 1.000 1.000 1.000 1.000 0.993 0.931 0.869 0.808 0.746 0.685 0.623 0.562 0.500"/><feFuncG type="table" tableValues="0.000 0.000 0.000 0.000 0.000 0.000 0.000 0.000 0.052 0.114 0.176 0.237 0.299 0.360 0.422 0.483 0.545 0.607 0.668 0.730 0.791 0.853 0.914 0.976 1.000 1.000 1.000 1.000 1.000 1.000 1.000 1.000 1.000 1.000 1.000 1.000 1.000 1.000 1.000 1.000 0.978 0.916 0.854 0.793 0.731 0.670 0.608 0.547 0.485 0.423 0.362 0.300 0.239 0.177 0.116 0.054 0.000 0.000 0.000 0.000 0.000 0.000 0.000 0.000 0.000"/><feFuncB type="table" tableValues="0.560 0.622 0.683 0.745 0.806 0.868 0.929 0.991 1.000 1.000 1.000 1.000 1.000 1.000 1.000 1.000 1.000 1.000 1.000 1.000 1.000 1.000 1.000 1.000 0.962 0.901 0.839 0.778 0.716 0.655 0.593 0.532 0.470 0.408 0.347 0.285 0.224 0.162 0.101 0.039 0.000 0.000 0.000 0.000 0.000 0.000 0.000 0.000 0.000 0.000 0.000 0.000 0.000 0.000 0.000 0.000 0.000 0.000 0.000 0.000 0.000 0.000 0.000 0.000 0.000"/></feComponentTransfer></filter>
<clipPath id="cc"><rect x="1672.0" y="150.9" width="223.0" height="222.6"/></clipPath>
<g clip-path="url(#cc)"><g filter="url(#fj)" style="isolation:isolate">
<rect x="1670.0" y="148.9" width="227.0" height="226.6" fill="url(#gG)"/>
<rect x="1670.0" y="148.9" width="227.0" height="226.6" fill="url(#gS)" style="mix-blend-mode:multiply"/>
</g></g>
<rect x="1672.0" y="150.9" width="223.0" height="222.6" fill="none" stroke="#000" stroke-width="1.6"/>
<line x1="1705.4" y1="152.6" x2="1705.4" y2="373.5" stroke="#fff000" stroke-width="2.8" stroke-dasharray="9.7,7.5"/>
<line x1="1862.6" y1="152.6" x2="1862.6" y2="373.5" stroke="#fff000" stroke-width="2.8" stroke-dasharray="9.7,7.5"/>
<line x1="1673.4" y1="237.1" x2="1895.0" y2="237.1" stroke="#fff000" stroke-width="2.8" stroke-dasharray="10,7.03"/>
<line x1="1673.4" y1="290.0" x2="1895.0" y2="290.0" stroke="#fff000" stroke-width="2.8" stroke-dasharray="10,7.03"/>
<text transform="translate(1664,385.0) scale(1,1)" font-size="32" class="sa" text-anchor="end" fill="#000" stroke="#000" stroke-width="0.6">1540</text>
<text transform="translate(1664,310.8) scale(1,1)" font-size="32" class="sa" text-anchor="end" fill="#000" stroke="#000" stroke-width="0.6">1560</text>
<text transform="translate(1664,236.6) scale(1,1)" font-size="32" class="sa" text-anchor="end" fill="#000" stroke="#000" stroke-width="0.6">1580</text>
<text transform="translate(1664,162.4) scale(1,1)" font-size="32" class="sa" text-anchor="end" fill="#000" stroke="#000" stroke-width="0.6">1600</text>
<text transform="translate(1705.8000000000002,410.3) scale(1,1)" font-size="32" class="sa" text-anchor="middle" fill="#000" stroke="#000" stroke-width="0.6">765</text>
<text transform="translate(1784.4,410.3) scale(1,1)" font-size="32" class="sa" text-anchor="middle" fill="#000" stroke="#000" stroke-width="0.6">770</text>
<text transform="translate(1863.0000000000002,410.3) scale(1,1)" font-size="32" class="sa" text-anchor="middle" fill="#000" stroke="#000" stroke-width="0.6">775</text>
<text transform="translate(1615.3,32.4) scale(0.9,1)" font-size="45.5" class="sa" text-anchor="start" fill="#000" stroke="#000" stroke-width="1.0">c</text>
<text class="se" font-weight="normal" font-style="normal" fill="#000"><tspan x="1730.8" y="453" font-size="45" textLength="22.5" lengthAdjust="spacingAndGlyphs">λ</tspan><tspan x="1756.7" y="458.4" font-size="29" textLength="12.9" lengthAdjust="spacingAndGlyphs" font-style="italic">s</tspan></text>
<text class="se" font-weight="normal" font-style="normal" fill="#000" stroke="#000" stroke-width="0.35"><tspan x="1795.3" y="454.5" font-size="33.8" textLength="64.5" lengthAdjust="spacingAndGlyphs">[nm]</tspan></text>
<text transform="translate(1565,336.5) rotate(-90)" class="se" font-weight="normal" font-style="normal" fill="#000"><tspan x="0" y="0" font-size="45" textLength="22.5" lengthAdjust="spacingAndGlyphs">λ</tspan><tspan x="25.0" y="6.0" font-size="33" textLength="11" lengthAdjust="spacingAndGlyphs" font-style="italic">i</tspan></text>
<text transform="translate(1563,279.8) rotate(-90)" class="se" font-weight="normal" font-style="normal" fill="#000" stroke="#000" stroke-width="0.35"><tspan x="0" y="0" font-size="33.8" textLength="65" lengthAdjust="spacingAndGlyphs">[nm]</tspan></text>
</svg></body></html>
